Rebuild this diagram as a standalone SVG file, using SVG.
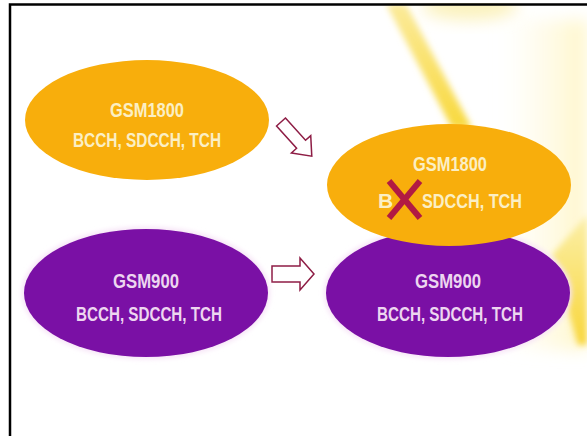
<svg xmlns="http://www.w3.org/2000/svg" width="587" height="436" viewBox="0 0 587 436">
  <style>
    .lbl { font-family: "Liberation Sans", Arial, sans-serif; font-weight: bold; font-size: 21px; text-anchor: middle; }
    .lft { text-anchor: start; }
    .onOrange { fill: #FBEFC4; }
    .onPurple { fill: #EDD6F0; }
    .orange { fill: #F8AE0C; }
    .purple { fill: #7A10A5; }
    .arrow { fill: #FFFFFF; stroke: #8E1D45; stroke-width: 1.5; stroke-linejoin: miter; }
    .cross { stroke: #B11A43; stroke-width: 6; stroke-linecap: butt; }
    .frame { stroke: #000000; stroke-width: 2.5; fill: none; }
  </style>
  <defs>
    <filter id="blur8" x="-50%" y="-50%" width="200%" height="200%"><feGaussianBlur stdDeviation="8"/></filter>
    <filter id="blur3" x="-50%" y="-50%" width="200%" height="200%"><feGaussianBlur stdDeviation="3"/></filter>
    <filter id="glow" x="-20%" y="-20%" width="140%" height="140%"><feGaussianBlur stdDeviation="2.5"/></filter>
    <linearGradient id="beam" x1="0" y1="0" x2="0" y2="1">
      <stop offset="0" stop-color="#FBEA9A"/>
      <stop offset="1" stop-color="#F8D93E"/>
    </linearGradient>
    <linearGradient id="side" x1="0" y1="0" x2="1" y2="0">
      <stop offset="0" stop-color="#FFFBE6" stop-opacity="0"/>
      <stop offset="1" stop-color="#FFF6C8"/>
    </linearGradient>
    <linearGradient id="wedge" x1="0" y1="0" x2="0" y2="1">
      <stop offset="0" stop-color="#FBEFA8"/>
      <stop offset="1" stop-color="#F8D63A"/>
    </linearGradient>
  </defs>

  <rect x="0" y="0" width="587" height="436" fill="#FFFFFF"/>

  <!-- background light effects -->
  <g id="background">
    <ellipse cx="470" cy="6" rx="48" ry="14" fill="#FBF2BE" filter="url(#blur8)"/>
    <rect x="500" y="20" width="87" height="330" fill="url(#side)" filter="url(#blur8)"/>
    <polygon points="386,4 406,4 472,128 452,128" fill="url(#beam)" filter="url(#blur3)"/>
    <polygon points="552,255 587,215 587,345 578,345" fill="url(#wedge)" filter="url(#blur3)"/>
  </g>

  <rect x="0" y="0" width="587" height="3" fill="#FFFFFF"/>
  <path class="frame" d="M10,436 V4.5 H587"/>

  <!-- connectors -->
  <g id="connectors">
    <path class="arrow" transform="translate(281,122) rotate(48)" d="M0,-6 H30 V-13 L46,0 L30,13 V6 H0 Z"/>
    <path class="arrow" d="M272,266 H300 V258 L314,274 L300,290 V282 H272 Z"/>
  </g>

  <g id="gsm1800-before">
    <ellipse class="orange" cx="147" cy="120" rx="122" ry="60"/>
    <text class="lbl onOrange" x="147" y="117" textLength="74" lengthAdjust="spacingAndGlyphs">GSM1800</text>
    <text class="lbl onOrange" x="147" y="147" textLength="148" lengthAdjust="spacingAndGlyphs">BCCH, SDCCH, TCH</text>
  </g>

  <g id="gsm900-before">
    <ellipse cx="146" cy="293" rx="124" ry="66" fill="#F6E2F6" filter="url(#glow)"/>
    <ellipse class="purple" cx="146" cy="293" rx="122" ry="64"/>
    <text class="lbl onPurple" x="146" y="288" textLength="66" lengthAdjust="spacingAndGlyphs">GSM900</text>
    <text class="lbl onPurple" x="149" y="321" textLength="146" lengthAdjust="spacingAndGlyphs">BCCH, SDCCH, TCH</text>
  </g>

  <g id="gsm900-after">
    <ellipse cx="448" cy="293" rx="124" ry="66" fill="#F6E2F6" filter="url(#glow)"/>
    <ellipse class="purple" cx="448" cy="293" rx="122" ry="64"/>
    <text class="lbl onPurple" x="448" y="288" textLength="66" lengthAdjust="spacingAndGlyphs">GSM900</text>
    <text class="lbl onPurple" x="450" y="321" textLength="146" lengthAdjust="spacingAndGlyphs">BCCH, SDCCH, TCH</text>
  </g>

  <g id="gsm1800-after">
    <ellipse class="orange" cx="449" cy="185" rx="122" ry="61"/>
    <text class="lbl onOrange" x="450" y="171" textLength="74" lengthAdjust="spacingAndGlyphs">GSM1800</text>
    <text class="lbl onOrange lft" x="378" y="208">B</text>
    <text class="lbl onOrange lft" x="422" y="208" textLength="100" lengthAdjust="spacingAndGlyphs">SDCCH, TCH</text>
    <g id="cross">
      <line class="cross" x1="389" y1="181" x2="420" y2="218"/>
      <line class="cross" x1="420" y1="181" x2="389" y2="218"/>
    </g>
  </g>
</svg>
